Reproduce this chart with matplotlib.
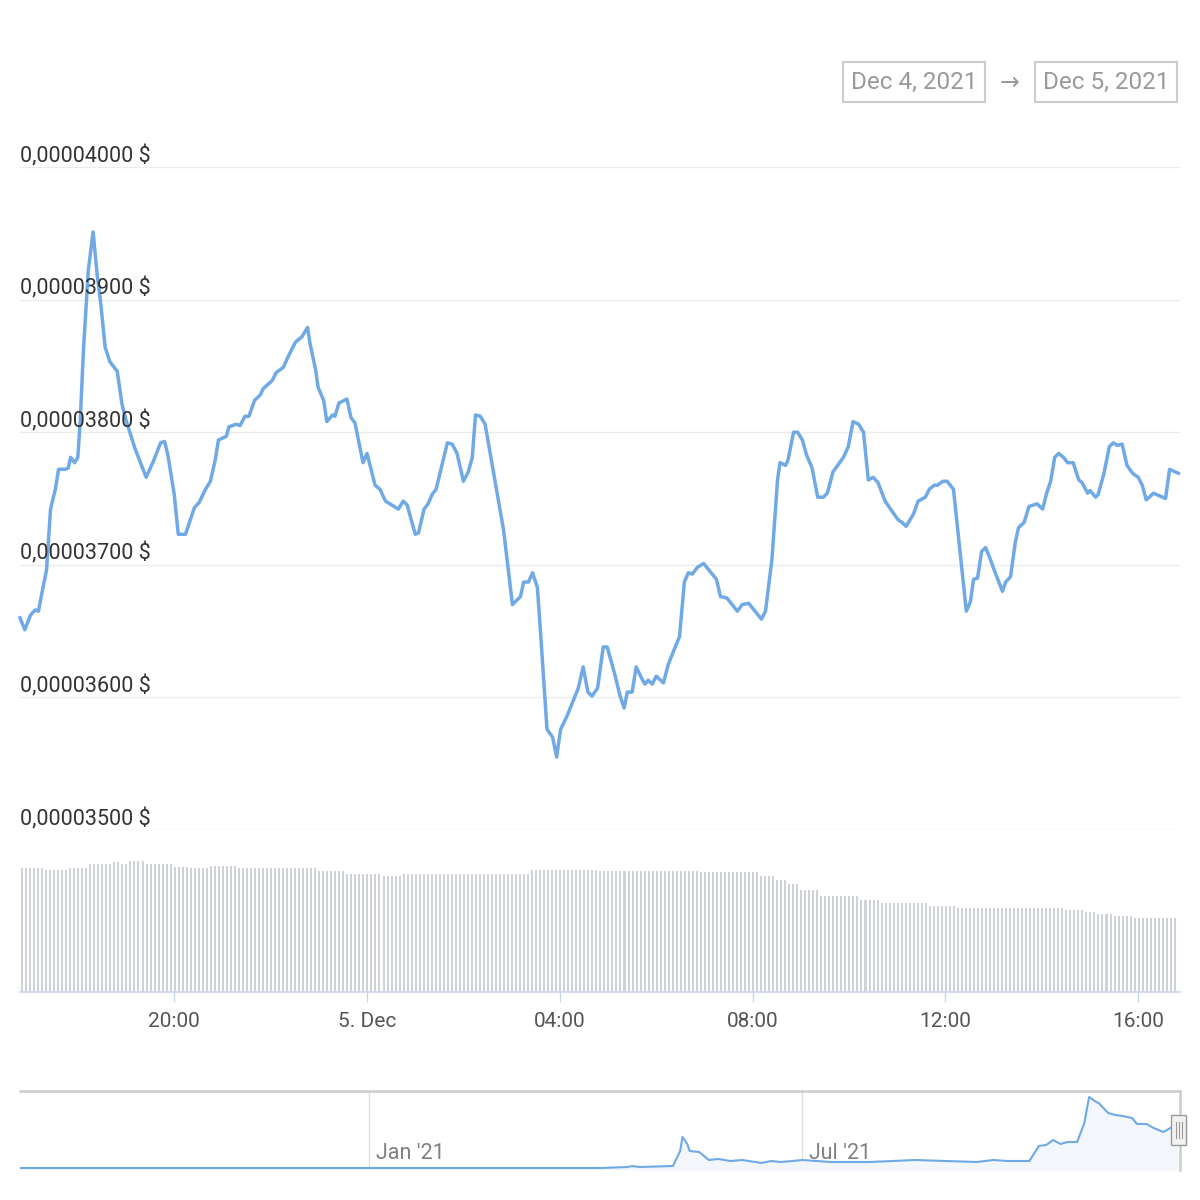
import numpy as np
import pandas as pd
import matplotlib
matplotlib.use("Agg")
import matplotlib.pyplot as plt
from matplotlib import transforms
from matplotlib.patches import Rectangle
from matplotlib.lines import Line2D

plt.rcParams['font.family'] = ['Roboto', 'DejaVu Sans']

# price line: minutes after Dec 4 16:00, price in 1e-8 USD
minutes = [48, 54, 61, 67, 71, 76, 81, 86, 92, 96, 104, 108, 111, 116, 120, 123, 127, 133, 139, 144,
           148, 154, 160, 169, 175, 180, 191, 205, 214, 223, 228, 232, 240, 245, 254, 260, 265, 271, 279, 285,
           291, 295, 305, 308, 317, 322, 328, 333, 340, 347, 351, 362, 367, 376, 381, 391, 399, 406, 409, 416,
           419, 426, 430, 437, 440, 445, 455, 460, 465, 475, 480, 490, 496, 503, 519, 525, 530, 540, 544, 551,
           556, 561, 566, 580, 586, 592, 600, 606, 611, 615, 621, 627, 650, 661, 671, 675, 681, 686, 692, 696,
           704, 711, 716, 721, 729, 743, 749, 755, 760, 767, 774, 779, 789, 795, 800, 804, 810, 815, 823, 826,
           830, 835, 840, 849, 855, 861, 869, 875, 880, 885, 891, 899, 907, 915, 920, 928, 941, 947, 955, 963,
           971, 976, 984, 991, 994, 1001, 1004, 1011, 1016, 1022, 1027, 1034, 1041, 1048, 1053, 1060, 1073, 1079, 1085, 1092,
           1098, 1104, 1110, 1116, 1125, 1134, 1141, 1146, 1151, 1160, 1166, 1175, 1180, 1186, 1190, 1197, 1202, 1210, 1226, 1231,
           1235, 1240, 1245, 1250, 1256, 1262, 1271, 1275, 1281, 1287, 1291, 1298, 1304, 1314, 1321, 1326, 1331, 1336, 1341, 1347,
           1352, 1359, 1366, 1370, 1377, 1380, 1387, 1390, 1397, 1404, 1409, 1414, 1420, 1426, 1433, 1440, 1445, 1450, 1459, 1474,
           1479, 1490]
prices = [3660, 3651, 3662, 3666, 3665, 3681, 3696, 3742, 3757, 3772, 3772, 3773, 3781, 3777, 3781, 3809, 3862, 3922, 3951, 3919,
          3900, 3864, 3853, 3846, 3821, 3809, 3788, 3766, 3778, 3792, 3793, 3783, 3753, 3723, 3723, 3734, 3743, 3747, 3757, 3763,
          3779, 3794, 3797, 3804, 3806, 3805, 3812, 3812, 3824, 3828, 3833, 3839, 3845, 3849, 3856, 3868, 3872, 3879, 3867, 3847,
          3834, 3824, 3808, 3813, 3812, 3822, 3825, 3811, 3807, 3777, 3784, 3760, 3757, 3748, 3742, 3748, 3745, 3723, 3724, 3742,
          3746, 3753, 3757, 3792, 3791, 3784, 3763, 3770, 3781, 3813, 3812, 3806, 3726, 3670, 3676, 3687, 3687, 3694, 3683, 3649,
          3576, 3570, 3555, 3576, 3586, 3607, 3623, 3604, 3601, 3607, 3638, 3638, 3616, 3601, 3592, 3604, 3604, 3623, 3613, 3610,
          3613, 3610, 3616, 3611, 3625, 3634, 3646, 3687, 3694, 3693, 3698, 3701, 3695, 3689, 3676, 3675, 3665, 3670, 3671, 3665,
          3659, 3665, 3704, 3764, 3777, 3775, 3779, 3800, 3800, 3794, 3783, 3773, 3751, 3751, 3754, 3770, 3781, 3789, 3808, 3806,
          3800, 3764, 3766, 3762, 3748, 3740, 3734, 3732, 3729, 3738, 3748, 3751, 3757, 3760, 3760, 3763, 3763, 3757, 3665, 3672,
          3689, 3690, 3710, 3713, 3704, 3694, 3680, 3687, 3691, 3717, 3728, 3732, 3744, 3746, 3742, 3754, 3763, 3781, 3784, 3781,
          3777, 3777, 3764, 3762, 3754, 3756, 3751, 3753, 3768, 3789, 3792, 3790, 3791, 3775, 3769, 3766, 3760, 3749, 3754, 3750,
          3772, 3769]

# volume bars (5 min each), run-length: level, number of bars
vol_levels = [124, 122, 124, 128, 130, 128, 131, 128, 125, 124, 126, 124, 121, 118, 116, 118, 122, 121, 120,
              116, 112, 108, 102, 96, 92, 89, 86, 84, 82, 80, 78, 76, 74]
vol_counts = [6, 6, 5, 6, 2, 2, 4, 7, 4, 5, 7, 20, 7, 9, 5, 32, 17, 25, 15,
              4, 3, 3, 5, 10, 5, 12, 7, 27, 5, 3, 4, 5, 11]

tick_pos = [240, 480, 720, 960, 1200, 1440]
tick_labels = ['20:00', '5. Dec', '04:00', '08:00', '12:00', '16:00']
y_ticks = [3500, 3600, 3700, 3800, 3900, 4000]

# navigator (full history)
nav_dates = ['2020-08-08', '2021-04-08', '2021-04-19', '2021-04-21', '2021-04-24', '2021-05-08', '2021-05-11',
             '2021-05-12', '2021-05-14', '2021-05-15', '2021-05-19', '2021-05-23', '2021-05-27', '2021-06-01',
             '2021-06-06', '2021-06-14', '2021-06-18', '2021-06-22', '2021-06-27', '2021-07-01', '2021-07-07',
             '2021-07-13', '2021-07-21', '2021-07-29', '2021-08-08', '2021-08-17', '2021-08-30', '2021-09-12',
             '2021-09-19', '2021-09-25', '2021-10-04', '2021-10-08', '2021-10-11', '2021-10-14', '2021-10-17',
             '2021-10-20', '2021-10-24', '2021-10-27', '2021-10-29', '2021-11-01', '2021-11-02', '2021-11-06',
             '2021-11-09', '2021-11-12', '2021-11-16', '2021-11-18', '2021-11-22', '2021-11-25', '2021-11-29',
             '2021-12-02', '2021-12-05']
nav_values = [160, 160, 240, 320, 240, 320, 1520, 2640, 2080, 1520, 1440, 800, 880, 720, 800, 560, 720, 640,
              720, 800, 720, 640, 640, 640, 720, 800, 720, 640, 800, 720, 720, 1920, 2000, 2400, 2080, 2240,
              2240, 3760, 5840, 5440, 5360, 4560, 4400, 4320, 4160, 3680, 3680, 3360, 3040, 3360, 3760]

W, H = 1200, 1200
def box(x0, y0, x1, y1):
    return [x0 / W, 1 - y1 / H, (x1 - x0) / W, (y1 - y0) / H]

fig = plt.figure(figsize=(12, 12), dpi=100)
line_color = '#6fa9e6'

# main price chart
ax = fig.add_axes(box(20, 167, 1180, 830))
ax.plot(minutes, prices, color=line_color, lw=2.5, solid_joinstyle='round', clip_on=False)
ax.set_xlim(48, 1492)
ax.set_ylim(3500, 4000)
ax.set_yticks(y_ticks)
ax.yaxis.grid(True, color='#ebebeb', lw=1)
ax.set_axisbelow(True)
ax.tick_params(left=False, bottom=False, labelleft=False, labelbottom=False)
for s in ax.spines.values():
    s.set_visible(False)
for v in y_ticks:
    lab = f"{v * 1e-8:.8f}".replace('.', ',') + " $"
    ax.text(0, v, lab, transform=ax.get_yaxis_transform(), ha='left', va='bottom',
            fontsize=15.5, color='#333333')

# volume
vol = np.repeat(vol_levels, vol_counts)
vol_t = 50.5 + 5 * np.arange(len(vol))
axv = fig.add_axes(box(20, 830, 1180, 992))
axv.bar(vol_t, vol, width=2.5, color='#cfd3d9', lw=0)
axv.set_xlim(48, 1492)
axv.set_ylim(0, 162)
for k in ['top', 'left', 'right']:
    axv.spines[k].set_visible(False)
axv.spines['bottom'].set_color('#ccd6eb')
axv.spines['bottom'].set_linewidth(1.2)
axv.set_yticks([])
axv.set_xticks(tick_pos)
axv.set_xticklabels(tick_labels)
axv.tick_params(axis='x', length=7.5, width=1, color='#ccd6eb', pad=7, labelsize=15, labelcolor='#555555')

# navigator
nd = pd.to_datetime(nav_dates)
axn = fig.add_axes(box(20, 1091, 1180, 1170))
axn.fill_between(nd, nav_values, 0, color='#f3f7fc', lw=0)
axn.plot(nd, nav_values, color=line_color, lw=1.5)
axn.set_xlim(pd.Timestamp('2020-08-08'), pd.Timestamp('2021-12-06'))
axn.set_ylim(0, 6320)
axn.set_xticks([])
axn.set_yticks([])
for k in ['left', 'bottom']:
    axn.spines[k].set_visible(False)
for k in ['top', 'right']:
    axn.spines[k].set_color('#cccccc')
    axn.spines[k].set_linewidth(1.8)
nav_months = [pd.Timestamp('2021-01-01'), pd.Timestamp('2021-07-01')]
nav_month_labels = ["Jan '21", "Jul '21"]
off = transforms.offset_copy(axn.get_xaxis_transform(), fig=fig, x=7, y=0, units='dots')
for d, lab in zip(nav_months, nav_month_labels):
    axn.axvline(d, color='#e0e0e0', lw=1, zorder=0)
    axn.text(d, 0.21, lab, transform=off, ha='left', va='center', fontsize=15.5, color='#808080')

# navigator handle
fig.add_artist(Rectangle((1171 / W, 1 - 1145 / H), 15 / W, 30 / H, transform=fig.transFigure,
                         fc='#f2f2f2', ec='#999999', lw=1))
for hx in [1176, 1179, 1182]:
    fig.add_artist(Line2D([hx / W, hx / W], [1 - 1138 / H, 1 - 1122 / H], transform=fig.transFigure,
                          color='#999999', lw=0.8))

# date range boxes
for (x0, x1, txt) in [(843, 985, 'Dec 4, 2021'), (1035, 1177, 'Dec 5, 2021')]:
    fig.add_artist(Rectangle((x0 / W, 1 - 102 / H), (x1 - x0) / W, 40 / H, transform=fig.transFigure,
                             fc='none', ec='#cccccc', lw=1.5))
    fig.text((x0 + x1) / 2 / W, 1 - 82 / H, txt, ha='center', va='center', fontsize=17.5, color='#999999')
fig.text(1010 / W, 1 - 83 / H, '\u2192', ha='center', va='center', fontsize=17, color='#999999')

fig.savefig('out.png', dpi=100, facecolor='white')
